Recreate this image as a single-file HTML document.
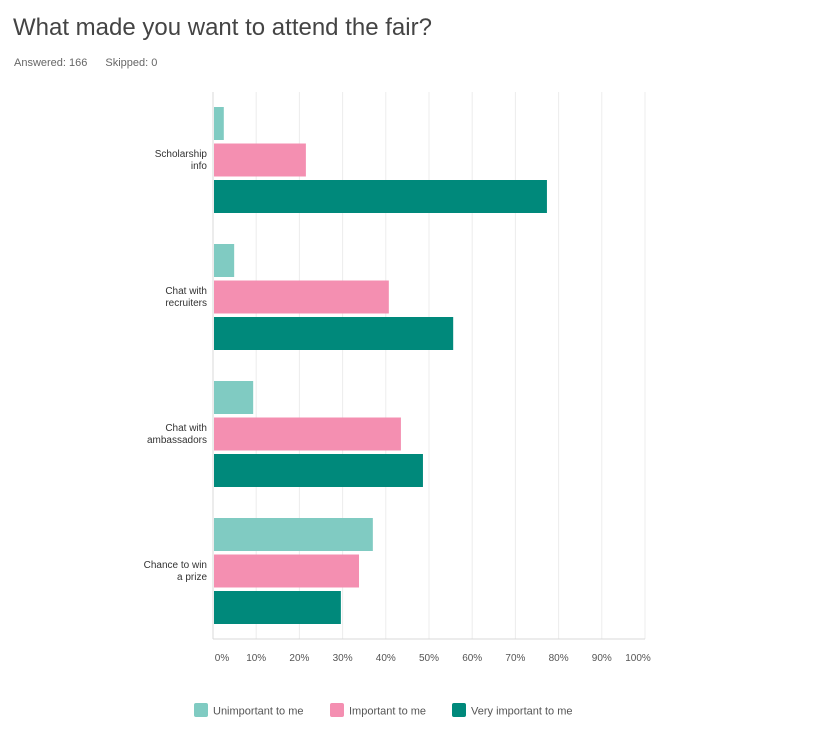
<!DOCTYPE html>
<html><head><meta charset="utf-8"><style>
body{margin:0;background:#fff;width:818px;height:731px;overflow:hidden;font-family:"Liberation Sans",sans-serif}
#title{position:absolute;left:13px;top:14px;font-size:24px;color:#444;font-weight:normal;margin:0}
#meta{position:absolute;left:14px;top:57px;font-size:11px;color:#666}
#meta span{margin-right:18px}
svg{position:absolute;left:0;top:0}
</style></head><body>
<h1 id="title">What made you want to attend the fair?</h1>
<div id="meta"><span>Answered: 166</span><span>Skipped: 0</span></div>
<svg id="chart" width="818" height="731"></svg>
<script>
const categories=[["Scholarship","info"],["Chat with","recruiters"],["Chat with","ambassadors"],["Chance to win","a prize"]];
const unimportant=[2.5,4.9,9.3,37.0];
const important=[21.5,40.7,43.5,33.8];
const veryImportant=[77.3,55.6,48.6,29.6];
const seriesNames=["Unimportant to me","Important to me","Very important to me"];
const tickLabels=["0%","10%","20%","30%","40%","50%","60%","70%","80%","90%","100%"];
const colors=["#80cbc2","#f48fb1","#00897b"];
const svg=document.getElementById('chart');
const NS="http://www.w3.org/2000/svg";
const x0=213,x1=645,yTop=92,yBot=639;
const xs=v=>x0+(x1-x0)*v/100;
const groupTop=i=>107+137*i;
function mk(t,a){const e=document.createElementNS(NS,t);for(const k in a)e.setAttribute(k,a[k]);svg.appendChild(e);return e;}
tickLabels.forEach((t,i)=>{
  const x=xs(i*10);
  const g=mk('line',{x1:x,x2:x,y1:yTop,y2:yBot,stroke:i==0?'#d8d8d8':'#ececec','stroke-width':1});
  
  
  let lx=x;if(i==0)lx=x+9;if(i==10)lx=x-7;
  const tx=mk('text',{x:lx,y:661,'font-size':10,fill:'#555','text-anchor':'middle'});
  tx.textContent=t;
  
  
});
const ax=mk('line',{x1:x0,x2:x1,y1:yBot,y2:yBot,stroke:'#d8d8d8','stroke-width':1});


const series=[unimportant,important,veryImportant];
categories.forEach((c,i)=>{
  const gt=groupTop(i);
  series.forEach((s,j)=>{
    const r=mk('rect',{x:x0+1,y:gt+j*36.5,width:xs(s[i])-x0-1,height:33,fill:colors[j]});
    
    
  });
  const cy=gt+52;
  c.forEach((line,k)=>{
    const t=mk('text',{x:207,y:cy+k*12-2,'font-size':10,fill:'#333','text-anchor':'end'});
    t.textContent=line;
    
    
  });
});
const lx=[194,330,452];
seriesNames.forEach((n,j)=>{
  const r=mk('rect',{x:lx[j],y:703,width:14,height:14,rx:2,fill:colors[j]});
  
  
  const t=mk('text',{x:lx[j]+19,y:714.5,'font-size':11,fill:'#555'});
  t.textContent=n;
  
  
});
</script>
</body></html>
